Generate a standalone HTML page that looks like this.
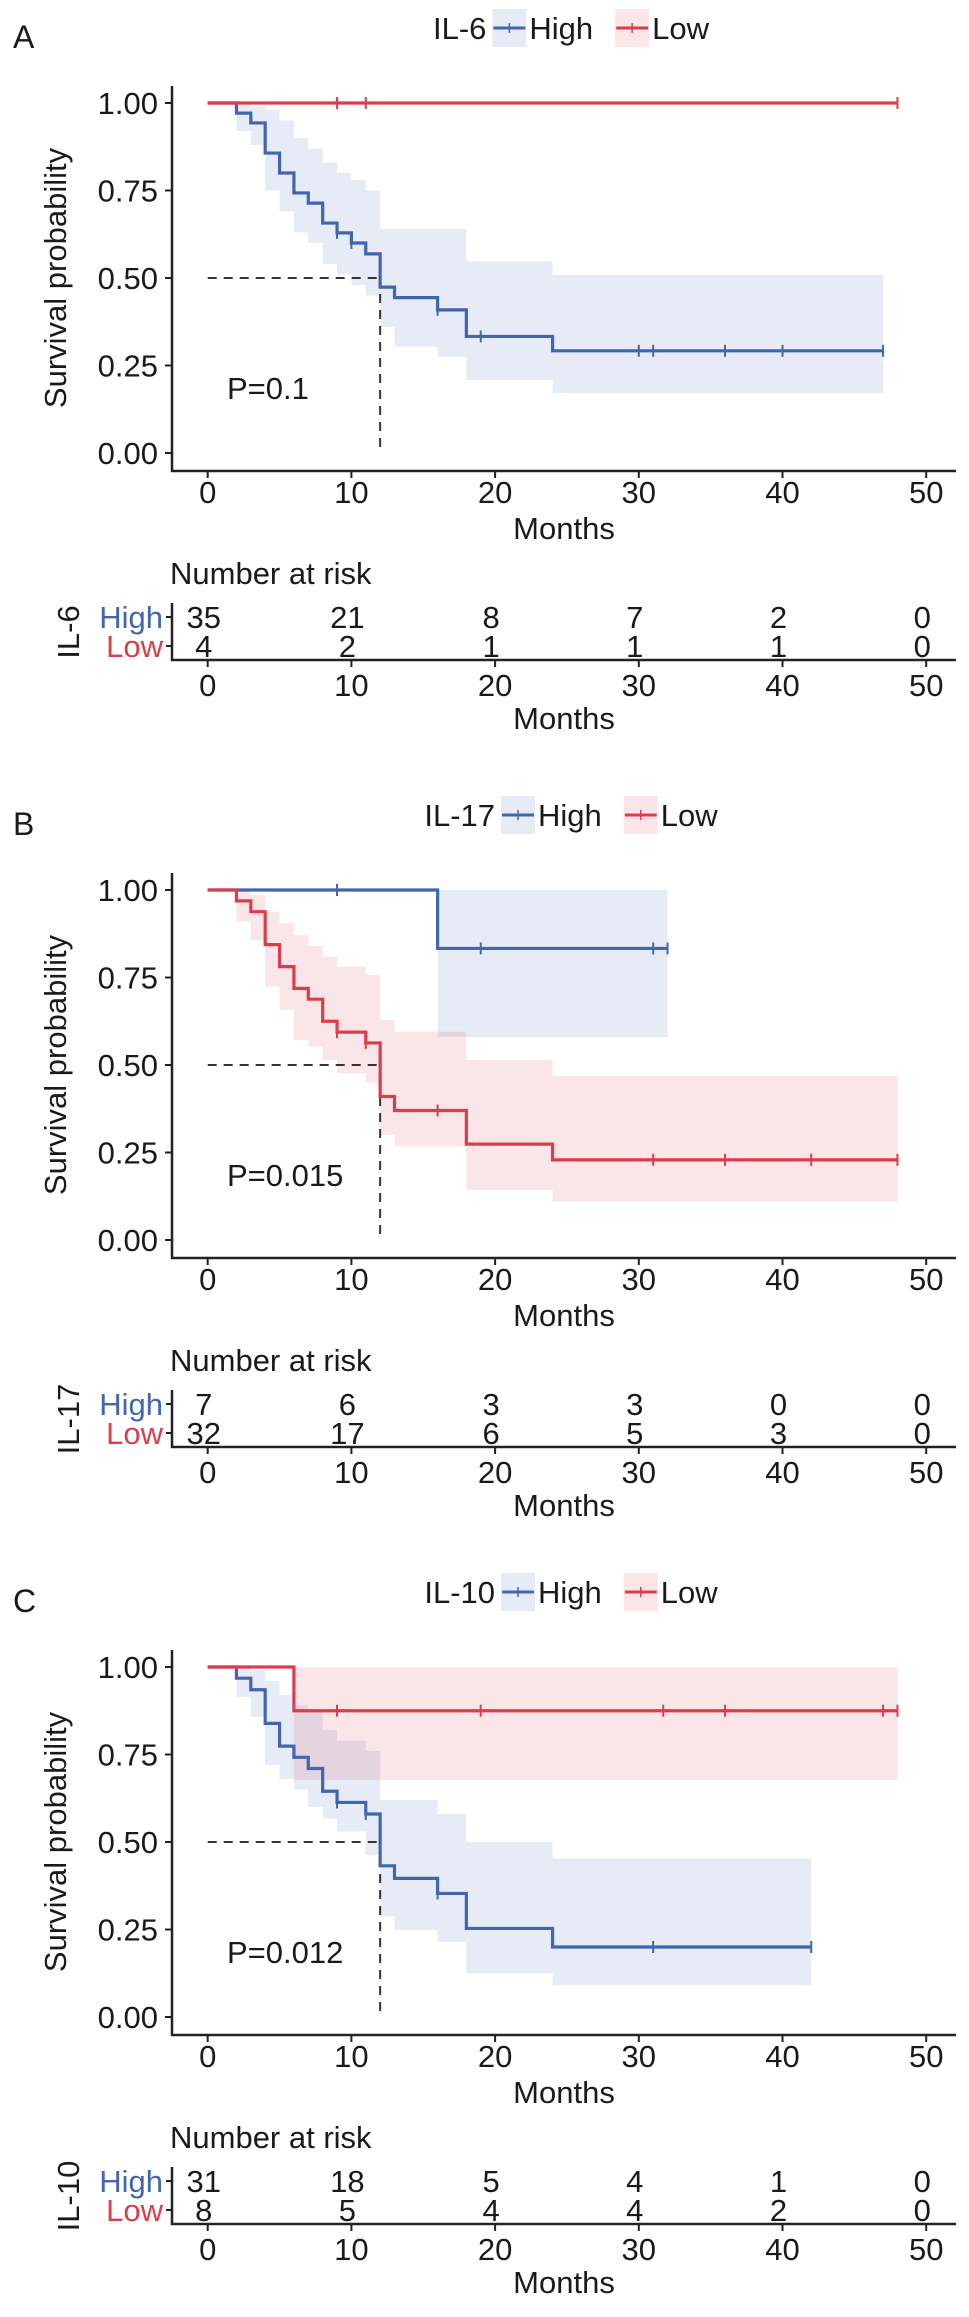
<!DOCTYPE html>
<html>
<head>
<meta charset="utf-8">
<style>
  html, body { margin:0; padding:0; background:#fff; }
  svg { display:block; }
  text { font-family: "Liberation Sans", Arial, sans-serif; fill:#1a1a1a; }
</style>
</head>
<body>
<svg id="chart" width="969" height="2317" viewBox="0 0 969 2317" xmlns="http://www.w3.org/2000/svg"></svg>
<script>
// ---------- Panel A : IL-6 ----------
const aHighTimes = [0,2,3,4,5,6,7,8,9,10,11,12,13,16,18,24];
const aHighSurv  = [1,0.971,0.943,0.857,0.8,0.743,0.714,0.657,0.629,0.6,0.569,0.474,0.444,0.409,0.333,0.292];
const aHighUpper = [1,1,0.99,0.98,0.95,0.9,0.87,0.83,0.8,0.78,0.75,0.64,0.64,0.64,0.547,0.509];
const aHighLower = [1,0.92,0.88,0.75,0.69,0.63,0.6,0.54,0.51,0.48,0.45,0.36,0.304,0.275,0.209,0.171];
const aHighCensor = [9,10,16,19,30,31,36,40,47];
const aHighEnd = 47;
const aLowTimes = [0];
const aLowSurv = [1];
const aLowUpper = [1];
const aLowLower = [1];
const aLowCensor = [9,11,48];
const aLowEnd = 48;
const aRiskHigh = [35,21,8,7,2,0];
const aRiskLow = [4,2,1,1,1,0];
const aMedian = [12];

// ---------- Panel B : IL-17 ----------
const bHighTimes = [0,16];
const bHighSurv = [1,0.833];
const bHighUpper = [1,1];
const bHighLower = [1,0.58];
const bHighCensor = [9,19,31,32];
const bHighEnd = 32;
const bLowTimes = [0,2,3,4,5,6,7,8,9,11,12,13,18,24];
const bLowSurv  = [1,0.969,0.938,0.844,0.781,0.719,0.688,0.625,0.594,0.563,0.41,0.37,0.274,0.229];
const bLowUpper = [1,1,0.986,0.938,0.905,0.871,0.84,0.81,0.781,0.757,0.629,0.595,0.514,0.469];
const bLowLower = [1,0.91,0.857,0.724,0.657,0.571,0.552,0.514,0.476,0.45,0.3,0.267,0.143,0.11];
const bLowCensor = [9,11,16,31,36,42,48];
const bLowEnd = 48;
const bRiskHigh = [7,6,3,3,0,0];
const bRiskLow = [32,17,6,5,3,0];
const bMedian = [12];

// ---------- Panel C : IL-10 ----------
const cHighTimes = [0,2,3,4,5,6,7,8,9,11,12,13,16,18,24];
const cHighSurv  = [1,0.968,0.935,0.839,0.774,0.742,0.71,0.645,0.613,0.58,0.432,0.396,0.353,0.253,0.2];
const cHighUpper = [1,1,0.99,0.96,0.92,0.89,0.87,0.82,0.79,0.76,0.62,0.62,0.58,0.5,0.453];
const cHighLower = [1,0.915,0.858,0.72,0.68,0.65,0.6,0.567,0.53,0.463,0.287,0.248,0.215,0.125,0.091];
const cHighCensor = [9,11,16,31,42];
const cHighEnd = 42;
const cLowTimes = [0,6];
const cLowSurv = [1,0.875];
const cLowUpper = [1,1];
const cLowLower = [1,0.677];
const cLowCensor = [9,19,31.7,36,47,48];
const cLowEnd = 48;
const cRiskHigh = [31,18,5,4,1,0];
const cRiskLow = [8,5,4,4,2,0];
const cMedian = [12];

// shared axis labels
const xTicks = [0,10,20,30,40,50];
const yTicks = [0,0.25,0.5,0.75,1];
const yTickLabels = ["0.00","0.25","0.50","0.75","1.00"];

const BLUE = "#4166b0", RED = "#dc3d4b";
const BLUE_FILL = "rgba(65,102,176,0.13)", RED_FILL = "rgba(220,61,75,0.13)";
const NS = "http://www.w3.org/2000/svg";
const svg = document.getElementById("chart");
const FS = 31;

function mk(tag, attrs, parent, txt) {
  const e = document.createElementNS(NS, tag);
  for (const k in attrs) e.setAttribute(k, attrs[k]);
  if (txt !== undefined) e.textContent = txt;
  (parent || svg).appendChild(e);
  return e;
}

function drawPanel(off, letter, group, pText, hi, lo, riskHi, riskLo, median) {
  const g = mk("g", {transform: "translate(0," + off + ")"});
  
  
  const X = t => 207.7 + t * 14.37;
  const Y = p => 453 - p * 350;

  const lt = mk("text", {x: 13, y: 48, "font-size": 32}, g, letter);
  
  

  // legend
  const lg = mk("g", {}, g);
  
  
  const lgTitle = mk("text", {x: 0, y: 39, "font-size": FS}, lg, group);
  
  
  let cx = lgTitle.getComputedTextLength() + 6;
  [["High", BLUE, BLUE_FILL], ["Low", RED, RED_FILL]].forEach((it, i) => {
    const en = mk("g", {}, lg);
    
    
    mk("rect", {x: cx, y: 9, width: 34, height: 38, fill: it[2]}, en);
    mk("line", {x1: cx + 1, y1: 28, x2: cx + 33, y2: 28, stroke: it[1], "stroke-width": 3}, en);
    mk("line", {x1: cx + 17, y1: 23, x2: cx + 17, y2: 33, stroke: it[1], "stroke-width": 1.5}, en);
    const tx = mk("text", {x: cx + 37, y: 39, "font-size": FS}, en, it[0]);
    cx = cx + 37 + tx.getComputedTextLength() + 22;
  });
  const lw = cx - 22;
  lg.setAttribute("transform", "translate(" + (571 - lw / 2) + ",0)");

  // bands
  [hi, lo].forEach((s, si) => {
    let d = "";
    const n = s.times.length;
    for (let i = 0; i < n; i++) {
      const x1 = X(s.times[i]), x2 = X(i + 1 < n ? s.times[i + 1] : s.end);
      d += (i === 0 ? "M" : "L") + x1 + "," + Y(s.upper[i]) + "L" + x2 + "," + Y(s.upper[i]);
    }
    for (let i = n - 1; i >= 0; i--) {
      const x1 = X(s.times[i]), x2 = X(i + 1 < n ? s.times[i + 1] : s.end);
      d += "L" + x2 + "," + Y(s.lower[i]) + "L" + x1 + "," + Y(s.lower[i]);
    }
    d += "Z";
    const b = mk("path", {d: d, fill: si === 0 ? BLUE_FILL : RED_FILL, stroke: "none"}, g);
    
    
  });

  median.forEach(m => {
    const ml = mk("path", {d: "M" + X(0) + "," + Y(0.5) + "L" + X(m) + "," + Y(0.5) + "M" + X(m) + "," + Y(0.5) + "L" + X(m) + "," + Y(0),
      stroke: "#333", "stroke-width": 2, "stroke-dasharray": "9,7", fill: "none"}, g);
    
    
  });

  [[hi, BLUE, "high"], [lo, RED, "low"]].forEach(arr => {
    const s = arr[0];
    let d = "M" + X(s.times[0]) + "," + Y(s.surv[0]);
    const n = s.times.length;
    for (let i = 0; i < n; i++) {
      const x2 = X(i + 1 < n ? s.times[i + 1] : s.end);
      d += "L" + x2 + "," + Y(s.surv[i]);
      if (i + 1 < n) d += "L" + x2 + "," + Y(s.surv[i + 1]);
    }
    const c = mk("path", {d: d, stroke: arr[1], "stroke-width": 3.2, fill: "none"}, g);
    
    
    s.censor.forEach(t => {
      let p = s.surv[0];
      for (let i = 0; i < n; i++) if (s.times[i] <= t) p = s.surv[i];
      const cm = mk("line", {x1: X(t), y1: Y(p) - 6, x2: X(t), y2: Y(p) + 6, stroke: arr[1], "stroke-width": 2}, g);
      
      
    });
  });

  const ax = mk("g", {}, g);
  
  
  mk("line", {x1: 172, y1: 86, x2: 172, y2: 472, stroke: "#222", "stroke-width": 2.5}, ax);
  yTicks.forEach((v, i) => {
    mk("line", {x1: 165, y1: Y(v), x2: 172, y2: Y(v), stroke: "#222", "stroke-width": 2}, ax);
    mk("text", {x: 158, y: Y(v) + 11, "font-size": FS, "text-anchor": "end"}, ax, yTickLabels[i]);
  });
  const yt = mk("text", {x: 0, y: 0, "font-size": FS, "text-anchor": "middle", transform: "translate(66,278) rotate(-90)"}, g, "Survival probability");
  
  

  const xa = mk("g", {}, g);
  
  
  mk("line", {x1: 171, y1: 471, x2: 956, y2: 471, stroke: "#222", "stroke-width": 2.5}, xa);
  xTicks.forEach(v => {
    mk("line", {x1: X(v), y1: 471, x2: X(v), y2: 478, stroke: "#222", "stroke-width": 2}, xa);
    mk("text", {x: X(v), y: 503, "font-size": FS, "text-anchor": "middle"}, xa, String(v));
  });
  const xt = mk("text", {x: 564, y: 539, "font-size": FS, "text-anchor": "middle"}, g, "Months");
  
  

  const pv = mk("text", {x: 227, y: 399, "font-size": FS}, g, pText);
  
  

  const rt = mk("g", {}, g);
  
  
  mk("text", {x: 170, y: 584, "font-size": FS}, rt, "Number at risk");
  mk("line", {x1: 172, y1: 603, x2: 172, y2: 661, stroke: "#222", "stroke-width": 2.5}, rt);
  mk("line", {x1: 171, y1: 660, x2: 956, y2: 660, stroke: "#222", "stroke-width": 2.5}, rt);
  [[617, "High", BLUE, riskHi], [646, "Low", RED, riskLo]].forEach(r => {
    mk("line", {x1: 166, y1: r[0], x2: 172, y2: r[0], stroke: "#222", "stroke-width": 2}, rt);
    const lb = mk("text", {x: 163, y: r[0] + 11, "font-size": FS, "text-anchor": "end", style: "fill:" + r[2]}, rt, r[1]);
    
    
    r[3].forEach((v, i) => {
      const nt = mk("text", {x: X(xTicks[i]) - 4, y: r[0] + 11, "font-size": FS, "text-anchor": "middle"}, rt, String(v));
      
      
    });
  });
  xTicks.forEach(v => {
    mk("line", {x1: X(v), y1: 660, x2: X(v), y2: 667, stroke: "#222", "stroke-width": 2}, rt);
    mk("text", {x: X(v), y: 696, "font-size": FS, "text-anchor": "middle"}, rt, String(v));
  });
  mk("text", {x: 564, y: 729, "font-size": FS, "text-anchor": "middle"}, rt, "Months");
  mk("text", {x: 0, y: 0, "font-size": FS, "text-anchor": "middle", transform: "translate(79,632) rotate(-90)"}, rt, group);
}

drawPanel(0, "A", "IL-6", "P=0.1",
  {times: aHighTimes, surv: aHighSurv, upper: aHighUpper, lower: aHighLower, censor: aHighCensor, end: aHighEnd},
  {times: aLowTimes, surv: aLowSurv, upper: aLowUpper, lower: aLowLower, censor: aLowCensor, end: aLowEnd},
  aRiskHigh, aRiskLow, aMedian);
drawPanel(787, "B", "IL-17", "P=0.015",
  {times: bHighTimes, surv: bHighSurv, upper: bHighUpper, lower: bHighLower, censor: bHighCensor, end: bHighEnd},
  {times: bLowTimes, surv: bLowSurv, upper: bLowUpper, lower: bLowLower, censor: bLowCensor, end: bLowEnd},
  bRiskHigh, bRiskLow, bMedian);
drawPanel(1564, "C", "IL-10", "P=0.012",
  {times: cHighTimes, surv: cHighSurv, upper: cHighUpper, lower: cHighLower, censor: cHighCensor, end: cHighEnd},
  {times: cLowTimes, surv: cLowSurv, upper: cLowUpper, lower: cLowLower, censor: cLowCensor, end: cLowEnd},
  cRiskHigh, cRiskLow, cMedian);
</script>
</body>
</html>
